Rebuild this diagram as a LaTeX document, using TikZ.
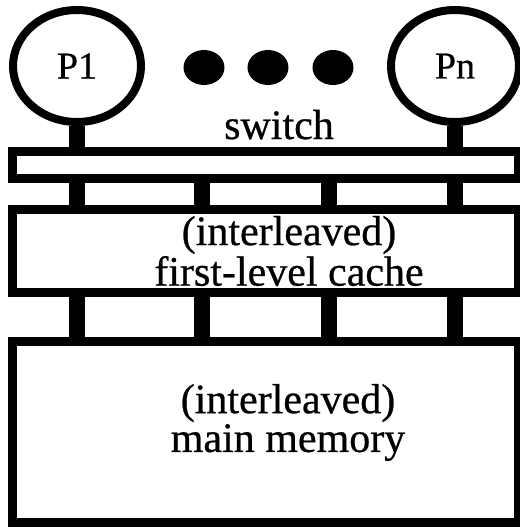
\documentclass[tikz,border=0pt]{standalone}
\usepackage{fontspec}
\setmainfont[FakeBold=0.6]{Liberation Serif}
\newfontfamily\procfont[FakeBold=0.6]{Liberation Serif}
\usetikzlibrary{shapes.geometric}

\begin{document}
\begin{tikzpicture}  % ------ Processeurs, switch, cache et memoire -----------
      [x=0.5pt,y=-0.5pt,
       proc/.style={draw,ellipse,line width=4pt,minimum width=64pt,minimum height=56pt,
                    inner sep=0pt,font=\procfont\fontsize{19}{19}\selectfont},
       bloc/.style={draw,rectangle,line width=4.5pt,inner sep=0pt,minimum width=253pt},
       lien/.style={line width=8pt},
       texte/.style={font=\procfont\fontsize{21}{14.5}\selectfont,align=center,inner sep=0pt}]
    \useasboundingbox (0,0) rectangle (520,527);
    \coordinate (k1) at (77,0);
    \coordinate (k2) at (202,0);
    \coordinate (k3) at (329,0);
    \coordinate (k4) at (455,0);
    \node[proc] (P1) at (77,66) {P1};
    \node[proc] (Pn) at (455,66) {Pn};
    \fill (204,67.5) ellipse [x radius=10.25pt, y radius=8.75pt];
    \fill (268,67.5) ellipse [x radius=10.25pt, y radius=8.75pt];
    \fill (333,67.5) ellipse [x radius=10.25pt, y radius=8.75pt];
    \node[bloc,minimum height=13.5pt] (sw) at (265.5,165) {};
    \node[bloc,minimum height=41.5pt] (cache) at (265.5,251) {};
    \node[bloc,minimum height=90.5pt] (mem) at (265.5,432) {};
    \node[texte,anchor=base] (swtxt) at (279,139) {switch};
    \node[texte] (cachetxt) at (289,251) {(interleaved)\\first-level cache};
    \node[texte,font=\procfont\fontsize{21}{18}\selectfont] (memtxt) at (288,422.5) {(interleaved)\\main memory};
    \draw[lien] (P1.south) -- (P1.south |- sw.north)
                (Pn.south) -- (Pn.south |- sw.north) ; % P -> switch
    \draw[lien] (k1 |- sw.south) -- (k1 |- cache.north)
                (k2 |- sw.south) -- (k2 |- cache.north)
                (k3 |- sw.south) -- (k3 |- cache.north)
                (k4 |- sw.south) -- (k4 |- cache.north) ; % switch -> cache
    \draw[lien] (k1 |- cache.south) -- (k1 |- mem.north)
                (k2 |- cache.south) -- (k2 |- mem.north)
                (k3 |- cache.south) -- (k3 |- mem.north)
                (k4 |- cache.south) -- (k4 |- mem.north) ; % cache -> memoire
\end{tikzpicture}
\end{document}
